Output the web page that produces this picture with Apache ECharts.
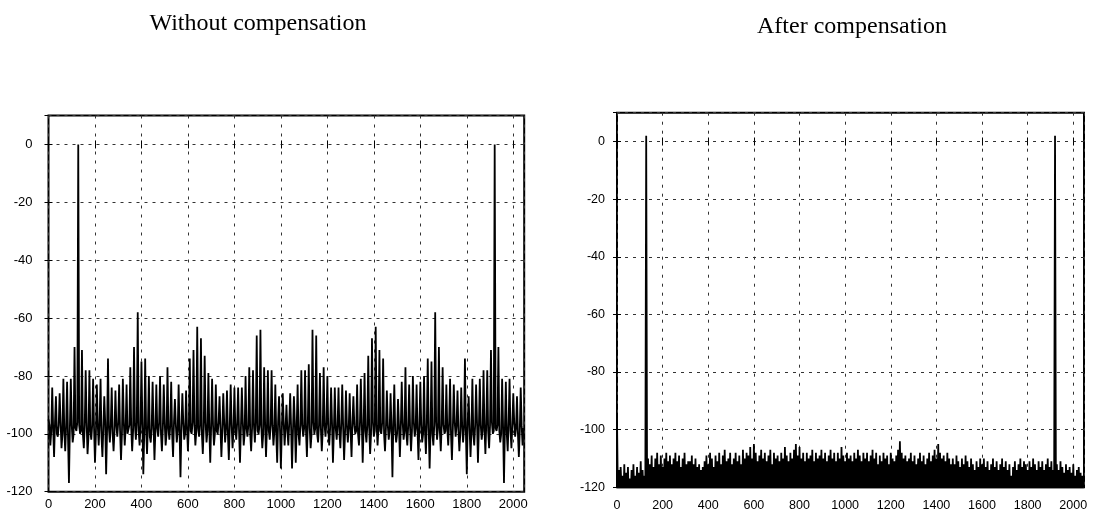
<!DOCTYPE html>
<html>
<head>
<meta charset="utf-8">
<script src="https://cdn.jsdelivr.net/npm/echarts@6/dist/echarts.min.js"></script>
<style>
  html, body { margin: 0; padding: 0; background: #fff; }
  #main { width: 1097px; height: 514px; }
</style>
</head>
<body>
<div id="main"></div>
<script>
// spectrum bins, one value every BIN samples (0 .. 2044)
var BIN = 4;
var xTicks = [0, 200, 400, 600, 800, 1000, 1200, 1400, 1600, 1800, 2000];
var yTicks = [-120, -100, -80, -60, -40, -20, 0];

// "Without compensation" (dB)
var beforeDb = [
  -95,-97,-104,-99, -84,-98,-108,-96, -87,-100,-101,-97, -86,-96,-105,-100,
  -81,-99,-106,-97, -82,-101,-117,-98, -81,-97,-103,-100, -70,-98,-99,-96,
  0,-97,-100,-99, -71,-100,-105,-97, -78,-96,-107,-101, -78,-99,-102,-97,
  -81,-98,-110,-100, -83,-97,-104,-96, -81,-101,-108,-98, -87,-96,-114,-99,
  -74,-98,-103,-97, -84,-100,-106,-99, -85,-97,-101,-96, -83,-99,-109,-100,
  -81,-96,-104,-98, -83,-100,-100,-97, -77,-98,-106,-99, -70,-97,-102,-96,
  -58,-99,-104,-97, -75,-96,-114,-100, -74,-98,-107,-97, -80,-101,-103,-98,
  -82,-97,-109,-99, -83,-98,-101,-96, -80,-100,-106,-98, -83,-96,-104,-100,
  -77,-98,-102,-97, -82,-100,-108,-96, -88,-97,-103,-99, -83,-99,-115,-98,
  -86,-96,-102,-100, -85,-98,-106,-97, -74,-99,-100,-96, -71,-97,-104,-99,
  -63,-98,-101,-97, -67,-100,-107,-98, -73,-96,-103,-99, -79,-98,-110,-97,
  -81,-97,-104,-100, -83,-99,-100,-96, -87,-98,-108,-99, -86,-96,-103,-98,
  -85,-100,-109,-97, -83,-97,-105,-99, -84,-98,-102,-96, -84,-99,-110,-98,
  -84,-96,-104,-100, -80,-98,-101,-97, -77,-100,-106,-98, -78,-97,-103,-96,
  -66,-99,-100,-97, -64,-98,-105,-100, -77,-96,-108,-98, -78,-99,-102,-97,
  -78,-97,-104,-99, -83,-100,-110,-96, -87,-98,-112,-99, -86,-96,-104,-98,
  -90,-99,-104,-96, -86,-98,-112,-99, -87,-96,-110,-98, -83,-100,-104,-97,
  -78,-97,-101,-98, -78,-99,-108,-96, -76,-98,-105,-100, -64,-96,-100,-98,
  -66,-100,-103,-97, -79,-98,-106,-99, -77,-97,-101,-96, -80,-99,-104,-98,
  -84,-96,-110,-99, -84,-98,-102,-97, -84,-100,-105,-96, -83,-98,-109,-100,
  -85,-97,-103,-98, -86,-99,-108,-96, -87,-97,-100,-99, -83,-100,-104,-97,
  -81,-96,-110,-98, -79,-99,-103,-97, -73,-98,-107,-100, -67,-96,-101,-99,
  -63,-97,-104,-98, -71,-99,-100,-96, -74,-100,-106,-98, -85,-97,-102,-99,
  -86,-98,-115,-96, -83,-99,-103,-100, -88,-97,-108,-98, -82,-96,-102,-99,
  -77,-100,-104,-97, -83,-98,-106,-99, -80,-96,-101,-98, -83,-99,-109,-97,
  -82,-97,-103,-100, -80,-99,-107,-96, -74,-98,-112,-99, -75,-100,-104,-97,
  -58,-96,-102,-98, -70,-99,-106,-97, -77,-97,-100,-99, -83,-98,-104,-96,
  -81,-100,-109,-98, -83,-96,-101,-97, -85,-99,-106,-100, -84,-97,-103,-98,
  -74,-99,-114,-96, -87,-98,-108,-99, -81,-100,-104,-97, -83,-96,-110,-98,
  -81,-97,-102,-99, -78,-98,-107,-96, -78,-99,-105,-97, -71,-96,-100,-99,
  0,-98,-99,-97, -70,-99,-103,-100, -81,-97,-117,-98, -82,-100,-106,-96,
  -81,-99,-105,-97, -86,-96,-101,-98, -87,-100,-108,-99, -84,-97,-104,-98
];

// "After compensation" (dB), troughs run below the -120 floor
var afterDb = [
  -96,-124,-114,-127,-113,-121,-116,-125,-112,-128,-115,-122,-113,-126,-117,-123,
  -114,-127,-112,-124,-116,-121,-113,-126,-115,-123,-111,-127,-114,-122,-116,-125,
  2,-124,-110,-126,-112,-121,-109,-127,-113,-123,-110,-125,-108,-122,-112,-126,
  -109,-123,-113,-127,-110,-121,-108,-125,-111,-128,-109,-122,-112,-126,-110,-124,
  -108,-127,-111,-123,-109,-125,-113,-121,-110,-126,-108,-124,-112,-127,-111,-122,
  -111,-125,-109,-127,-112,-122,-110,-126,-113,-123,-112,-128,-114,-124,-113,-127,
  -111,-123,-109,-126,-112,-121,-108,-127,-110,-124,-113,-122,-109,-126,-111,-125,
  -108,-122,-112,-127,-109,-124,-107,-121,-111,-126,-110,-123,-108,-127,-112,-122,
  -110,-126,-108,-123,-111,-127,-109,-122,-112,-125,-107,-121,-110,-126,-108,-124,
  -109,-127,-106,-122,-110,-124,-105,-126,-108,-121,-111,-127,-109,-123,-107,-125,
  -110,-122,-108,-126,-111,-124,-109,-127,-107,-121,-112,-125,-108,-123,-110,-126,
  -109,-124,-111,-127,-108,-122,-110,-125,-106,-121,-109,-126,-111,-123,-108,-127,
  -110,-122,-107,-125,-105,-121,-109,-127,-106,-123,-110,-126,-108,-122,-111,-124,
  -108,-126,-110,-122,-109,-127,-107,-124,-111,-121,-108,-126,-110,-123,-109,-125,
  -107,-123,-110,-126,-108,-122,-111,-127,-109,-124,-107,-121,-110,-126,-108,-123,
  -111,-125,-108,-122,-110,-127,-106,-123,-109,-126,-111,-122,-108,-125,-110,-127,
  -109,-122,-111,-126,-108,-124,-110,-121,-107,-127,-109,-123,-111,-126,-108,-122,
  -110,-125,-108,-127,-111,-122,-109,-124,-107,-126,-110,-121,-108,-125,-112,-127,
  -109,-123,-111,-126,-108,-122,-110,-127,-109,-124,-112,-121,-108,-126,-110,-123,
  -111,-127,-109,-122,-107,-125,-104,-121,-108,-126,-110,-123,-109,-127,-111,-124,
  -110,-122,-108,-126,-111,-124,-109,-127,-112,-121,-110,-125,-108,-123,-111,-126,
  -109,-127,-112,-123,-110,-125,-108,-122,-111,-126,-109,-121,-107,-124,-110,-127,
  -105,-122,-108,-126,-110,-123,-109,-127,-111,-121,-108,-125,-110,-126,-112,-122,
  -110,-124,-112,-127,-109,-122,-111,-125,-113,-121,-110,-126,-112,-123,-109,-127,
  -111,-123,-113,-126,-110,-122,-112,-127,-114,-124,-111,-121,-113,-126,-110,-125,
  -112,-127,-110,-122,-113,-125,-111,-121,-114,-126,-112,-123,-110,-127,-113,-124,
  -111,-122,-114,-126,-112,-124,-110,-127,-113,-121,-111,-125,-114,-123,-112,-126,
  -116,-128,-113,-124,-111,-122,-114,-126,-112,-123,-110,-127,-113,-121,-111,-125,
  -112,-124,-114,-127,-111,-122,-113,-125,-110,-126,-112,-123,-114,-127,-111,-122,
  -113,-126,-111,-123,-114,-127,-112,-122,-110,-125,-113,-121,-111,-126,-114,-123,
  2,-125,-112,-127,-114,-122,-111,-126,-113,-123,-115,-128,-112,-124,-114,-127,
  -113,-122,-115,-126,-112,-124,-116,-127,-114,-123,-113,-125,-115,-127,-116,-124
];

var chart = echarts.init(document.getElementById('main'));

function pairs(arr) {
  return arr.map(function (v, i) { return [i * BIN, v]; });
}

var gridLine = '#333';
function xAx(gi, pos, fs, margin) {
  return {
    type: 'value', gridIndex: gi, position: pos,
    min: xTicks[0], max: 2047, interval: xTicks[1] - xTicks[0],
    axisLine: { show: false },
    axisTick: { show: true, inside: true, length: 4, lineStyle: { color: '#000', width: 1 } },
    axisLabel: { show: pos === 'bottom', showMaxLabel: false, color: '#000', fontFamily: 'Liberation Sans', fontSize: fs, margin: margin,
      formatter: function (v) { return String(v); } },
    splitLine: { show: pos === 'bottom', lineStyle: { color: gridLine, width: 1, type: [3, 6] } }
  };
}
function yAx(gi, pos, fs, margin) {
  return {
    type: 'value', gridIndex: gi, position: pos,
    min: yTicks[0], max: 10, interval: yTicks[1] - yTicks[0],
    axisLine: { show: false },
    axisTick: { show: true, inside: true, length: 4, lineStyle: { color: '#000', width: 1 } },
    axisLabel: { show: pos === 'left', showMaxLabel: false, color: '#000', fontFamily: 'Liberation Sans', fontSize: fs, margin: margin },
    splitLine: { show: pos === 'left', lineStyle: { color: gridLine, width: 1, type: [3, 5] } }
  };
}

chart.setOption({
  animation: false,
  backgroundColor: '#fff',
  title: [
    { text: 'Without compensation', left: 258, top: 12, textAlign: 'center', padding: 0,
      textStyle: { fontFamily: 'Liberation Serif', fontSize: 24, fontWeight: 'normal', color: '#000' } },
    { text: 'After compensation', left: 852, top: 15, textAlign: 'center', padding: 0,
      textStyle: { fontFamily: 'Liberation Serif', fontSize: 24, fontWeight: 'normal', color: '#000' } }
  ],
  grid: [
    { left: 48.5, top: 115.5, width: 475.7, height: 376.2, show: true, borderColor: '#000', borderWidth: 2, backgroundColor: 'transparent' },
    { left: 617, top: 112.7, width: 467, height: 374.6, show: true, borderColor: '#000', borderWidth: 2, backgroundColor: 'transparent' }
  ],
  xAxis: [
    xAx(0, 'bottom', 13, 6), xAx(0, 'top', 13, 6),
    xAx(1, 'bottom', 12.5, 12), xAx(1, 'top', 12.5, 12)
  ],
  yAxis: [
    yAx(0, 'left', 13, 16), yAx(0, 'right', 13, 16),
    yAx(1, 'left', 12.5, 12), yAx(1, 'right', 12.5, 12)
  ],
  series: [
    { type: 'line', xAxisIndex: 0, yAxisIndex: 0, data: pairs(beforeDb), showSymbol: false, clip: true, sampling: 'none',
      lineStyle: { color: '#000', width: 1.8 }, itemStyle: { color: '#000' } },
    { type: 'line', xAxisIndex: 2, yAxisIndex: 2, data: pairs(afterDb), showSymbol: false, clip: true, sampling: 'none',
      lineStyle: { color: '#000', width: 1.8 }, itemStyle: { color: '#000' } }
  ]
});
</script>
</body>
</html>
